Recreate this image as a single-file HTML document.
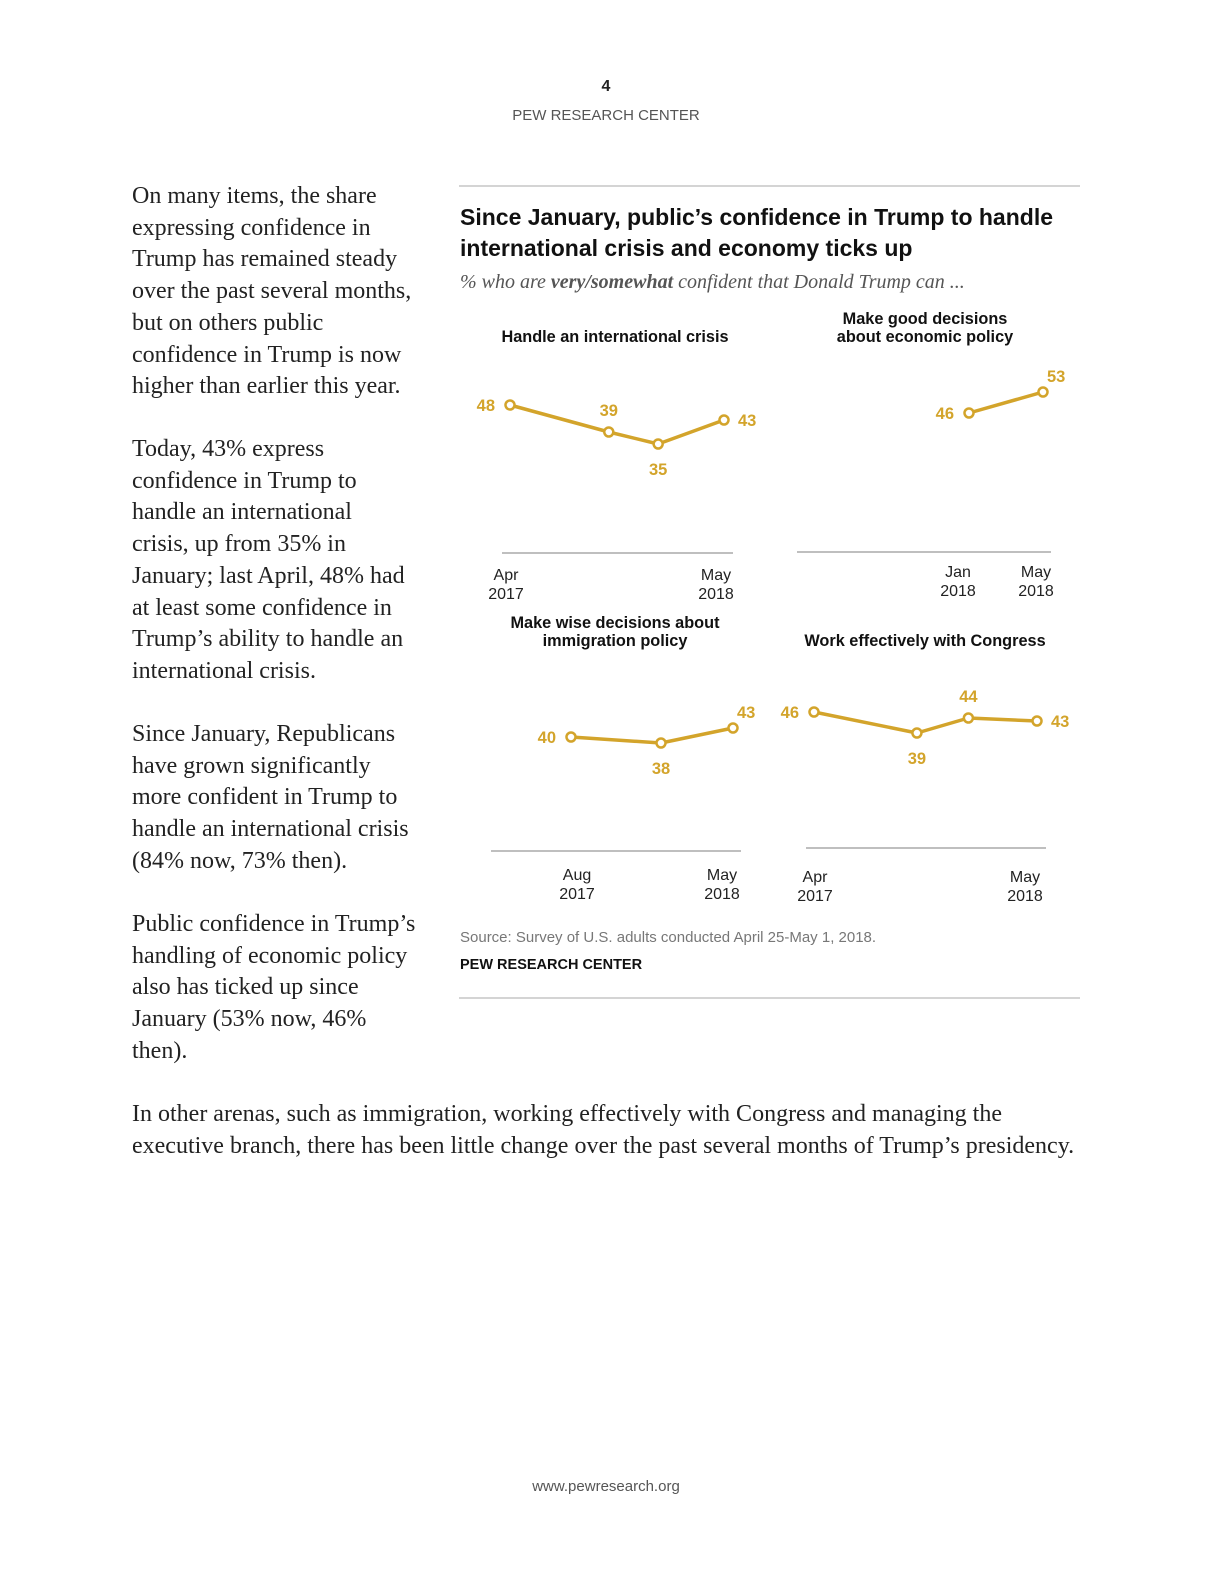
<!DOCTYPE html>
<html><head><meta charset="utf-8">
<style>
body{margin:0;background:#fff;}
#page{position:relative;width:1224px;height:1584px;overflow:hidden;background:#fff;}
.abs{position:absolute;white-space:nowrap;}
.ser{font-family:"Liberation Serif",serif;font-size:24px;color:#222;line-height:31.7px;}
.sans{font-family:"Liberation Sans",sans-serif;}
</style></head>
<body>
<div id="page">
<div class="abs sans" style="left:0;width:1212px;text-align:center;top:78px;font-size:16px;font-weight:bold;color:#222">4</div>
<div class="abs sans" style="left:0;width:1212px;text-align:center;top:107px;font-size:15px;color:#555">PEW RESEARCH CENTER</div>

<div class="abs ser" style="left:132px;top:181px">On many items, the share<br>expressing confidence in<br>Trump has remained steady<br>over the past several months,<br>but on others public<br>confidence in Trump is now<br>higher than earlier this year.</div>
<div class="abs ser" style="left:132px;top:434px">Today, 43% express<br>confidence in Trump to<br>handle an international<br>crisis, up from 35% in<br>January; last April, 48% had<br>at least some confidence in<br>Trump’s ability to handle an<br>international crisis.</div>
<div class="abs ser" style="left:132px;top:719px">Since January, Republicans<br>have grown significantly<br>more confident in Trump to<br>handle an international crisis<br>(84% now, 73% then).</div>
<div class="abs ser" style="left:132px;top:909px">Public confidence in Trump’s<br>handling of economic policy<br>also has ticked up since<br>January (53% now, 46%<br>then).</div>
<div class="abs ser" style="left:132px;top:1099px">In other arenas, such as immigration, working effectively with Congress and managing the<br>executive branch, there has been little change over the past several months of Trump’s presidency.</div>

<div class="abs sans" style="left:460px;top:202px;font-size:23px;font-weight:bold;color:#111;line-height:31px">Since January, public’s confidence in Trump to handle<br>international crisis and economy ticks up</div>
<div class="abs" style="left:460px;top:271px;font-family:'Liberation Serif',serif;font-style:italic;font-size:20px;color:#555">% who are <b>very/somewhat</b> confident that Donald Trump can ...</div>

<div class="abs sans" style="left:460px;top:929px;font-size:15px;color:#777">Source: Survey of U.S. adults conducted April 25-May 1, 2018.</div>
<div class="abs sans" style="left:460px;top:957px;font-size:14.5px;font-weight:bold;color:#111">PEW RESEARCH CENTER</div>
<div class="abs sans" style="left:0;width:1212px;text-align:center;top:1478px;font-size:15px;color:#555">www.pewresearch.org</div>

<svg id="chart" width="1224" height="1584" style="position:absolute;left:0;top:0" font-family="Liberation Sans, sans-serif">
<line x1="459" y1="186" x2="1080" y2="186" stroke="#aaa" stroke-width="1"/>
<line x1="459" y1="998" x2="1080" y2="998" stroke="#aaa" stroke-width="1"/>
</svg>
</div>
<script>
// months counted from Jan 2017 (0 = Jan 2017)
const crisisMonths = [3, 9, 12, 16];
const crisisValues = [48, 39, 35, 43];
const crisisLabelSide = ['left', 'above', 'below', 'right'];
const economyMonths = [12, 16];
const economyValues = [46, 53];
const economyLabelSide = ['left', 'above-right'];
const immigrationMonths = [7, 12, 16];
const immigrationValues = [40, 38, 43];
const immigrationLabelSide = ['left', 'below', 'above-right'];
const congressMonths = [3, 9, 12, 16];
const congressValues = [46, 39, 44, 43];
const congressLabelSide = ['left', 'below', 'above', 'right'];
const crisisTicks = [['Apr', '2017'], ['May', '2018']];
const economyTicks = [['Jan', '2018'], ['May', '2018']];
const immigrationTicks = [['Aug', '2017'], ['May', '2018']];
const congressTicks = [['Apr', '2017'], ['May', '2018']];

const svg = document.getElementById('chart');
const NS = 'http://www.w3.org/2000/svg';
const GOLD = '#d3a42b';
function mk(tag, attrs, parent) {
  const e = document.createElementNS(NS, tag);
  for (const k in attrs) e.setAttribute(k, attrs[k]);
  (parent || svg).appendChild(e);
  return e;
}
function drawPanel(cfg) {
  const g = mk('g', {});
  
  
  const xs = m => cfg.x0 + (m - cfg.m0) * (cfg.x1 - cfg.x0) / (cfg.m1 - cfg.m0);
  const ys = v => cfg.zeroY - v * 3;
  cfg.title.forEach((t, i) => {
    const tt = mk('text', {x: cfg.titleX, y: cfg.titleY + i * 18, 'text-anchor': 'middle', 'font-size': 16.3, 'font-weight': 'bold', fill: '#111'}, g);
    tt.textContent = t;
    
    
  });
  const base = mk('line', {x1: cfg.bx0, x2: cfg.bx1, y1: cfg.baseY, y2: cfg.baseY, stroke: '#999', 'stroke-width': 1.2}, g);
  
  
  cfg.ticks.forEach((t, i) => {
    const m = i === 0 ? cfg.months[0] : cfg.months[cfg.months.length - 1];
    const tx = xs(m) + (cfg.tickDx ? cfg.tickDx[i] : 0);
    t.forEach((s, j) => {
      const e = mk('text', {x: tx, y: cfg.tickY + j * 19, 'text-anchor': 'middle', 'font-size': 16, fill: '#222'}, g);
      e.textContent = s;
      
      
    });
  });
  const pts = cfg.months.map((m, i) => [xs(m), ys(cfg.values[i])]);
  const line = mk('polyline', {points: pts.map(p => p.join(',')).join(' '), fill: 'none', stroke: GOLD, 'stroke-width': 3.5, 'stroke-linejoin': 'round'}, g);
  
  
  pts.forEach((p, i) => {
    const c = mk('circle', {cx: p[0], cy: p[1], r: 4.5, fill: '#fff', stroke: GOLD, 'stroke-width': 2.5}, g);
    
    
    const side = cfg.sides[i];
    let lx = p[0], ly = p[1] + 6, anchor = 'middle';
    if (side === 'left') { lx = p[0] - 15; anchor = 'end'; }
    else if (side === 'right') { lx = p[0] + 14; anchor = 'start'; }
    else if (side === 'above') { ly = p[1] - 16; }
    else if (side === 'below') { ly = p[1] + 31; }
    else if (side === 'above-right') { lx = p[0] + 4; ly = p[1] - 10; anchor = 'start'; }
    const l = mk('text', {x: lx, y: ly, 'text-anchor': anchor, 'font-size': 16.5, 'font-weight': 'bold', fill: GOLD}, g);
    l.textContent = cfg.values[i];
    
    
  });
}
drawPanel({name: 'panel-international-crisis', months: crisisMonths, values: crisisValues, sides: crisisLabelSide, ticks: crisisTicks,
  m0: 3, m1: 16, x0: 510, x1: 724, zeroY: 549, bx0: 502, bx1: 733, baseY: 553, tickY: 580, tickDx: [-4, -8],
  title: ['Handle an international crisis'], titleX: 615, titleY: 342});
drawPanel({name: 'panel-economic-policy', months: economyMonths, values: economyValues, sides: economyLabelSide, ticks: economyTicks,
  m0: 12, m1: 16, x0: 969, x1: 1043, zeroY: 551, bx0: 797, bx1: 1051, baseY: 552, tickY: 577, tickDx: [-11, -7],
  title: ['Make good decisions', 'about economic policy'], titleX: 925, titleY: 324});
drawPanel({name: 'panel-immigration-policy', months: immigrationMonths, values: immigrationValues, sides: immigrationLabelSide, ticks: immigrationTicks,
  m0: 7, m1: 16, x0: 571, x1: 733, zeroY: 857, bx0: 491, bx1: 741, baseY: 851, tickY: 880, tickDx: [6, -11],
  title: ['Make wise decisions about', 'immigration policy'], titleX: 615, titleY: 628});
drawPanel({name: 'panel-congress', months: congressMonths, values: congressValues, sides: congressLabelSide, ticks: congressTicks,
  m0: 3, m1: 16, x0: 814, x1: 1037, zeroY: 850, bx0: 806, bx1: 1046, baseY: 848, tickY: 882, tickDx: [1, -12],
  title: ['Work effectively with Congress'], titleX: 925, titleY: 646});
</script>
</body></html>
